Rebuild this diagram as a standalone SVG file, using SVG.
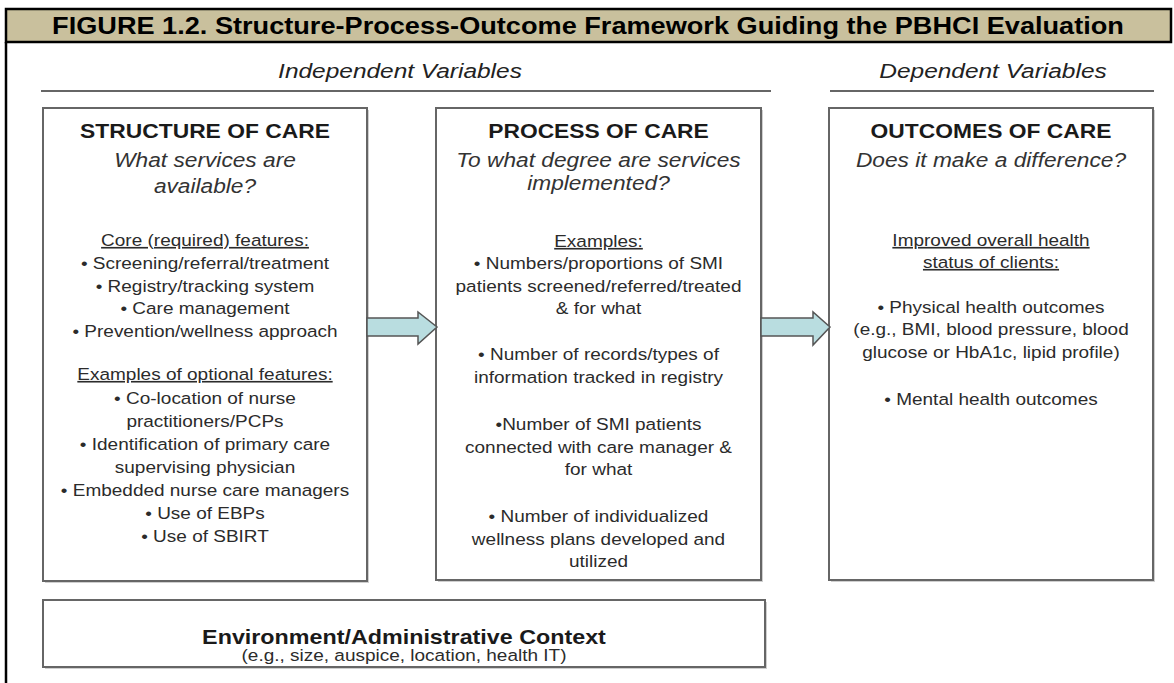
<svg xmlns="http://www.w3.org/2000/svg" width="1174" height="683" viewBox="0 0 1174 683">
<style>
text { font-family: "Liberation Sans", Arial, sans-serif; text-anchor: middle; }
.hdr { font-weight: bold; font-size: 23.3px; fill: #000; }
.var { font-style: italic; font-size: 21px; fill: #222; }
.ttl { font-weight: bold; font-size: 19.6px; fill: #1a1a1a; }
.q { font-style: italic; font-size: 19.5px; fill: #333; }
.b { font-size: 16.3px; fill: #2b2b2b; }
.u { text-decoration: underline; }
.envt { font-weight: bold; font-size: 20px; fill: #1a1a1a; }
.box { fill: #fff; stroke: #666; stroke-width: 2; }
.shadow { fill: #cfcfcf; }
.rule { stroke: #333; stroke-width: 1.5; }
.arrow { fill: #b9dde0; stroke: #555; stroke-width: 1.5; stroke-linejoin: miter; }
</style>
<rect width="1174" height="683" fill="#fff"/>

<g id="frame">
  <line x1="6" y1="42" x2="6" y2="683" stroke="#000" stroke-width="2.5"/>
  <rect x="6" y="9" width="1165" height="33" fill="#c9c09d" stroke="#000" stroke-width="2.5"/>
  <g transform="translate(588,0) scale(1.165,1)">
    <text class="hdr" x="0" y="34">FIGURE 1.2. Structure-Process-Outcome Framework Guiding the PBHCI Evaluation</text>
  </g>
</g>

<g id="independent-variables">
  <g transform="translate(400,0) scale(1.165,1)"><text class="var" x="0" y="78">Independent Variables</text></g>
  <line class="rule" x1="41" y1="91" x2="771" y2="91"/>
</g>

<g id="dependent-variables">
  <g transform="translate(993,0) scale(1.165,1)"><text class="var" x="0" y="78">Dependent Variables</text></g>
  <line class="rule" x1="830" y1="91" x2="1154" y2="91"/>
</g>

<g id="structure">
  <rect class="shadow" x="45" y="110" width="324" height="473"/>
  <rect class="box" x="43" y="108" width="324" height="473"/>
  <g transform="translate(205,0) scale(1.165,1)">
    <text class="ttl" x="0" y="138">STRUCTURE OF CARE</text>
    <text class="q" x="0" y="167">What services are</text>
    <text class="q" x="0" y="193">available?</text>
    <text class="b u" x="0" y="246">Core (required) features:</text>
    <text class="b" x="0" y="269">• Screening/referral/treatment</text>
    <text class="b" x="0" y="292">• Registry/tracking system</text>
    <text class="b" x="0" y="314.5">• Care management</text>
    <text class="b" x="0" y="337">• Prevention/wellness approach</text>
    <text class="b u" x="0" y="380">Examples of optional features:</text>
    <text class="b" x="0" y="404">• Co-location of nurse</text>
    <text class="b" x="0" y="427">practitioners/PCPs</text>
    <text class="b" x="0" y="450">• Identification of primary care</text>
    <text class="b" x="0" y="473">supervising physician</text>
    <text class="b" x="0" y="496">• Embedded nurse care managers</text>
    <text class="b" x="0" y="519">• Use of EBPs</text>
    <text class="b" x="0" y="542">• Use of SBIRT</text>
  </g>
</g>

<g id="process">
  <rect class="shadow" x="438" y="110" width="325" height="472"/>
  <rect class="box" x="436" y="108" width="325" height="472"/>
  <g transform="translate(598.5,0) scale(1.165,1)">
    <text class="ttl" x="0" y="138">PROCESS OF CARE</text>
    <text class="q" x="0" y="167">To what degree are services</text>
    <text class="q" x="0" y="190">implemented?</text>
    <text class="b u" x="0" y="247">Examples:</text>
    <text class="b" x="0" y="269">• Numbers/proportions of SMI</text>
    <text class="b" x="0" y="292">patients screened/referred/treated</text>
    <text class="b" x="0" y="314">&amp; for what</text>
    <text class="b" x="0" y="360">• Number of records/types of</text>
    <text class="b" x="0" y="383">information tracked in registry</text>
    <text class="b" x="0" y="430">•Number of SMI patients</text>
    <text class="b" x="0" y="453">connected with care manager &amp;</text>
    <text class="b" x="0" y="475">for what</text>
    <text class="b" x="0" y="522">• Number of individualized</text>
    <text class="b" x="0" y="545">wellness plans developed and</text>
    <text class="b" x="0" y="567">utilized</text>
  </g>
</g>

<g id="outcomes">
  <rect class="shadow" x="831" y="110" width="324" height="472"/>
  <rect class="box" x="829" y="108" width="324" height="472"/>
  <g transform="translate(991,0) scale(1.165,1)">
    <text class="ttl" x="0" y="138">OUTCOMES OF CARE</text>
    <text class="q" x="0" y="167">Does it make a difference?</text>
    <text class="b u" x="0" y="246">Improved overall health</text>
    <text class="b u" x="0" y="268">status of clients:</text>
    <text class="b" x="0" y="313">• Physical health outcomes</text>
    <text class="b" x="0" y="335.5">(e.g., BMI, blood pressure, blood</text>
    <text class="b" x="0" y="358">glucose or HbA1c, lipid profile)</text>
    <text class="b" x="0" y="405">• Mental health outcomes</text>
  </g>
</g>

<g id="environment">
  <rect class="shadow" x="45" y="602" width="722" height="67"/>
  <rect class="box" x="43" y="600" width="722" height="67"/>
  <g transform="translate(404,0) scale(1.165,1)">
    <text class="envt" x="0" y="644">Environment/Administrative Context</text>
    <text class="b" x="0" y="661">(e.g., size, auspice, location, health IT)</text>
  </g>
</g>

<g id="connectors">
  <polygon class="arrow" points="367,318 418,318 418,312 437,327 418,344 418,336 367,336"/>
  <polygon class="arrow" points="761,318 813,318 813,312 830,327 813,345 813,336 761,336"/>
</g>
</svg>
